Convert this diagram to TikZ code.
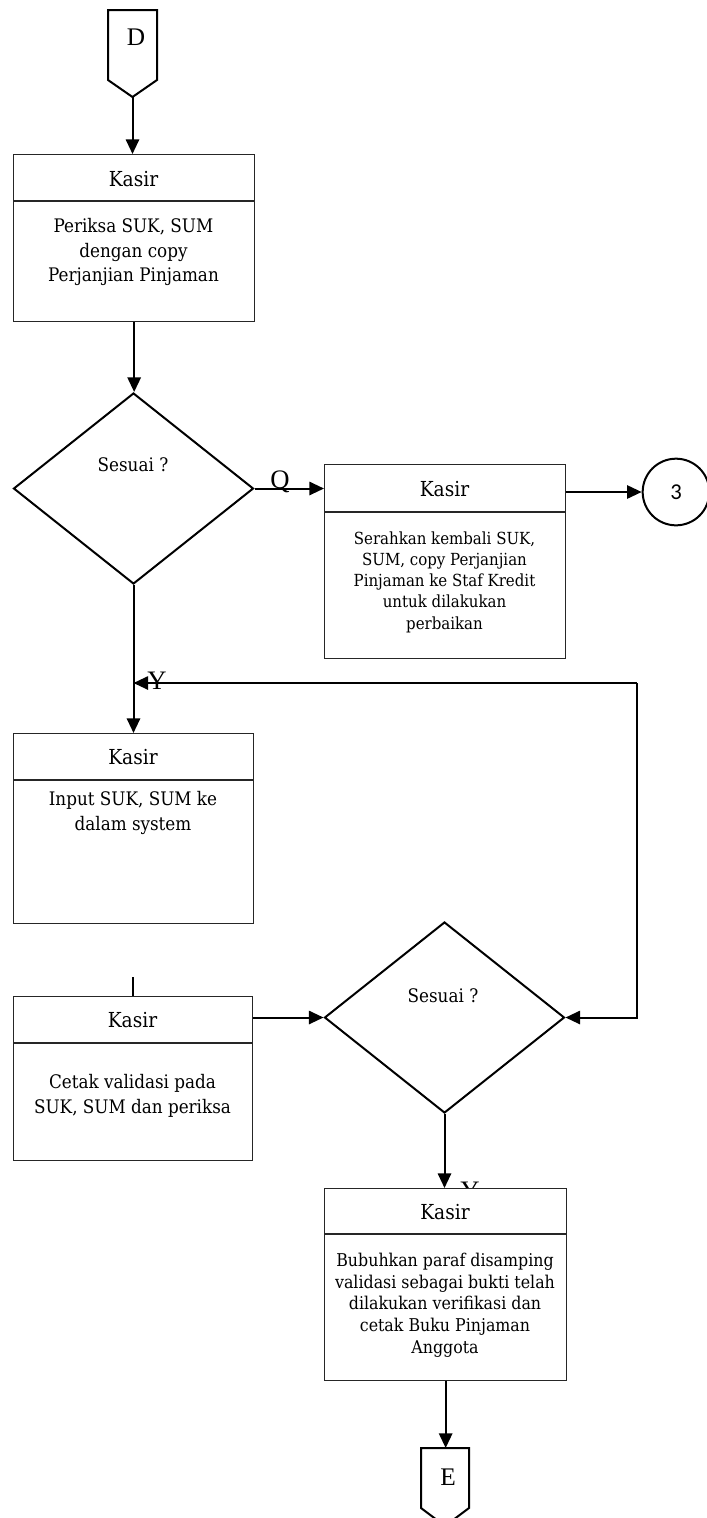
\documentclass[tikz,border=0pt]{standalone}
\usepackage{fontspec}
\setmainfont{DejaVu Serif Condensed}
\newfontfamily\lsf{Liberation Serif}
\newfontfamily\carl{Carlito}
\usetikzlibrary{shapes.geometric,arrows.meta}
\begin{document}
\begin{tikzpicture}[x=0.75pt,y=-0.75pt,
  box/.style={draw=black!85,line width=1pt,fill=white,rectangle,inner sep=0pt,anchor=north west},
  hdr/.style={draw=black!85,line width=1pt},
  dia/.style={draw,line width=1.5pt,diamond,inner sep=0pt,minimum width=180pt,minimum height=143.25pt},
  arr/.style={line width=1.5pt,-{Triangle[length=11pt,width=10pt]}},
  ln/.style={line width=1.5pt},
  ttl/.style={font=\fontsize{15.5}{18}\selectfont,inner sep=1pt},
  bodyA/.style={align=center,font=\fontsize{14}{18.4}\selectfont},
  bodyB/.style={align=center,font=\fontsize{12.5}{15.9}\selectfont},
  bodyC/.style={align=center,font=\fontsize{13.2}{16.3}\selectfont},
  lbl/.style={font=\lsf\fontsize{20}{22}\selectfont,inner sep=0pt},
  conn/.style={draw,line width=1.5pt,line join=miter}
]
\useasboundingbox (0,0) rectangle (707,1518);
\clip (0,0) rectangle (707,1518);
% off-page connector D
\draw[conn] (108,10) -- (157,10) -- (157,80) -- (132.5,97) -- (108,80) -- cycle;
\coordinate (Dtip) at (132.5,97);
\node[font=\lsf\fontsize{19}{22}\selectfont] (Dl) at (136,37) {D};
% box 1
\node[box,minimum width=180.75pt,minimum height=125.25pt] (b1) at (13,154) {};
\draw[hdr] ([yshift=-35.25pt]b1.north west) -- ([yshift=-35.25pt]b1.north east);
\node[ttl] (b1t) at (133.5,179) {Kasir};
\node[bodyA] (b1b) at (133.5,252) {Periksa SUK, SUM\\dengan copy\\Perjanjian Pinjaman};
% diamond 1
\node[dia] (d1) at (133.5,488.5) {};
\node[bodyA] (d1t) at (133,465) {Sesuai ?};
% box 2
\node[box,minimum width=180.75pt,minimum height=145.5pt] (b2) at (324,464) {};
\draw[hdr] ([yshift=-36pt]b2.north west) -- ([yshift=-36pt]b2.north east);
\node[ttl] (b2t) at (444.5,489) {Kasir};
\node[bodyB] (b2b) at (444.5,582) {Serahkan kembali SUK,\\SUM, copy Perjanjian\\Pinjaman ke Staf Kredit\\untuk dilakukan\\perbaikan};
% circle 3
\node[draw,circle,line width=1.5pt,minimum size=50pt,inner sep=0pt,font=\carl\fontsize{17}{20}\selectfont] (c3) at (676,492) {3};
% box 3
\node[box,minimum width=180pt,minimum height=142.5pt] (b3) at (13,733) {};
\draw[hdr] ([yshift=-35.25pt]b3.north west) -- ([yshift=-35.25pt]b3.north east);
\node[ttl] (b3t) at (133,757) {Kasir};
\node[bodyA] (b3b) at (133,813) {Input SUK, SUM ke\\dalam system};
% box 4
\node[box,minimum width=179.25pt,minimum height=123pt] (b4) at (13,996) {};
\draw[hdr] ([yshift=-35.25pt]b4.north west) -- ([yshift=-35.25pt]b4.north east);
\node[ttl] (b4t) at (132.5,1020) {Kasir};
\node[bodyA] (b4b) at (132.5,1096) {Cetak validasi pada\\SUK, SUM dan periksa};
% diamond 2
\node[dia] (d2) at (444.5,1017.5) {};
\node[bodyA] (d2t) at (443,996) {Sesuai ?};
% hidden Y label
\node[lbl] (y2) at (470,1191) {Y};
% box 5
\node[box,minimum width=181.5pt,minimum height=144pt] (b5) at (324,1188) {};
\draw[hdr] ([yshift=-34.5pt]b5.north west) -- ([yshift=-34.5pt]b5.north east);
\node[ttl] (b5t) at (445,1212) {Kasir};
\node[bodyC] (b5b) at (445,1305) {Bubuhkan paraf disamping\\validasi sebagai bukti telah\\dilakukan verifikasi dan\\cetak Buku Pinjaman\\Anggota};
% off-page connector E
\draw[conn] (421,1448) -- (469,1448) -- (469,1508) -- (445,1526) -- (421,1508) -- cycle;
\coordinate (Etop) at (445,1448);
\node[font=\lsf\fontsize{19}{22}\selectfont] (El) at (448,1477) {E};
% connectors
\draw[arr] (Dtip) -- (Dtip |- b1.north);
\draw[arr] (b1.south) -- (b1.south |- d1.north);
\draw[arr] (d1.east) -- (d1.east -| b2.west);
\node[lbl] (q) at (280,482) {Q};
\draw[arr] (c3.west -| b2.east) -- (c3.west);
\draw[arr] (d1.south) -- (d1.south |- b3.north);
\coordinate (j1) at (637,683);
\coordinate (j2) at (j1 |- d2.east);
\draw[arr] (j1) -- (j1 -| d1.south);
\draw[arr] (j1) -- (j2) -- (d2.east);
\node[lbl] (y1) at (157,681) {Y};
\coordinate (s1) at (133,977);
\draw[ln] (s1) -- (s1 |- b4.north);
\draw[arr] (d2.west -| b4.east) -- (d2.west);
\draw[arr] (d2.south) -- (d2.south |- b5.north);
\draw[arr] (b5.south) -- (b5.south |- Etop);
\end{tikzpicture}
\end{document}
